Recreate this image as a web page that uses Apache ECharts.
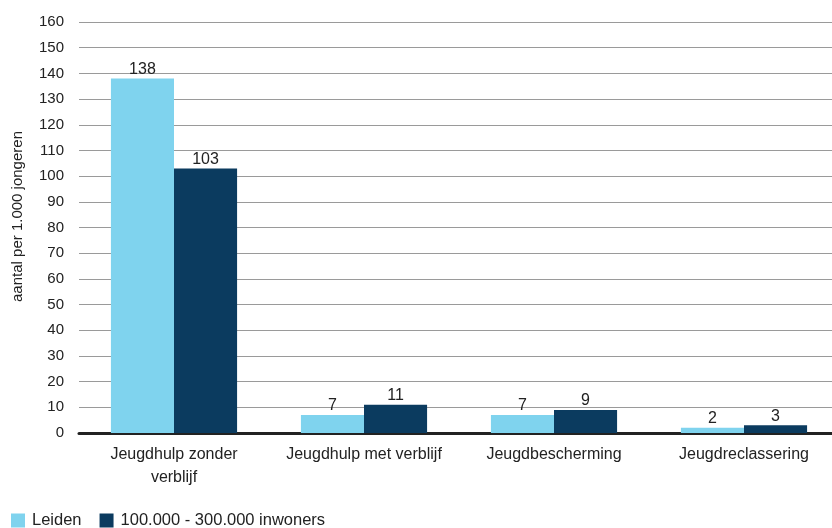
<!DOCTYPE html>
<html>
<head>
<meta charset="utf-8">
<script src="https://cdn.jsdelivr.net/npm/echarts@6/dist/echarts.min.js"></script>
<style>
  html, body { margin: 0; padding: 0; background: #fff; }
  #chart { width: 832px; height: 528px; }
</style>
</head>
<body>
<div id="chart"></div>
<script>
// Categories and values per 1.000 jongeren
const categories = ['Jeugdhulp zonder\nverblijf', 'Jeugdhulp met verblijf', 'Jeugdbescherming', 'Jeugdreclassering'];
const leiden = [138, 7, 7, 2];
const vergelijking = [103, 11, 9, 3];
const seriesNames = ['Leiden', '100.000 - 300.000 inwoners'];

const textColor = '#222';
const font = 'Liberation Sans, Arial, sans-serif';

const chart = echarts.init(document.getElementById('chart'), null, { renderer: 'canvas' });

function barSeries(name, data, color) {
  return {
    name: name,
    type: 'bar',
    data: data,
    barWidth: '33.2%',
    barGap: '0%',
    itemStyle: { color: color },
    label: {
      show: true,
      position: 'top',
      distance: 1,
      color: textColor,
      fontFamily: font,
      fontSize: 16
    }
  };
}

chart.setOption({
  animation: false,
  textStyle: { fontFamily: font },
  // plot continues slightly past the right edge of the canvas
  grid: { left: 79, width: 760, top: 22, bottom: 95, containLabel: false, outerBoundsMode: 'none' },
  legend: {
    left: 11,
    top: 512,
    itemWidth: 14,
    itemHeight: 14,
    itemGap: 18,
    padding: 0,
    icon: 'rect',
    textStyle: { color: textColor, fontSize: 16.5, fontFamily: font, padding: [0, 0, 0, 2] },
    data: seriesNames
  },
  xAxis: {
    type: 'category',
    data: categories,
    axisLine: { show: true, lineStyle: { color: '#222', width: 3 } },
    axisTick: { show: false },
    axisLabel: { color: textColor, fontSize: 16, fontFamily: font, margin: 10, lineHeight: 23, interval: 0 }
  },
  yAxis: {
    type: 'value',
    min: 0,
    max: 160,
    interval: 10,
    name: 'aantal per 1.000 jongeren',
    nameLocation: 'middle',
    nameGap: 54,
    nameRotate: 90,
    nameTextStyle: { color: textColor, fontSize: 15, fontFamily: font, padding: [0, 0, 0, 22] },
    axisLine: { show: false },
    axisTick: { show: false },
    axisLabel: { color: textColor, fontSize: 15, fontFamily: font, margin: 15 },
    splitLine: { lineStyle: { color: '#9a9a9a', width: 1 } }
  },
  series: [
    barSeries(seriesNames[0], leiden, '#7fd3ee'),
    barSeries(seriesNames[1], vergelijking, '#0b3b5f')
  ]
});
</script>
</body>
</html>
